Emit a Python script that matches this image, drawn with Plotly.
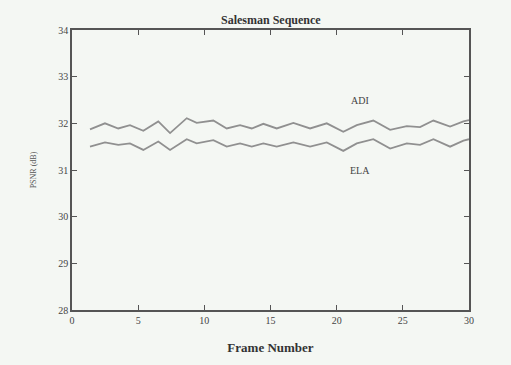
import plotly.graph_objects as go

frames = [1.36, 2.49, 3.5, 4.38, 5.39, 6.52, 7.41, 8.67, 9.42, 10.68, 11.69, 12.7, 13.58,
          14.46, 15.47, 16.73, 17.99, 19.25, 20.5, 21.52, 22.77, 24.04, 25.3, 26.3, 27.31,
          28.57, 29.58, 30.0]
adi = [31.87, 32.0, 31.89, 31.96, 31.84, 32.04, 31.79, 32.11, 32.01, 32.06, 31.89, 31.96,
       31.89, 31.99, 31.89, 32.01, 31.89, 32.0, 31.82, 31.96, 32.06, 31.86, 31.94, 31.92,
       32.06, 31.93, 32.04, 32.07]
ela = [31.50, 31.59, 31.54, 31.57, 31.43, 31.61, 31.43, 31.66, 31.57, 31.64, 31.50, 31.57,
       31.50, 31.57, 31.50, 31.59, 31.50, 31.59, 31.41, 31.57, 31.66, 31.46, 31.57, 31.54,
       31.66, 31.50, 31.63, 31.66]
x_ticks = [0, 5, 10, 15, 20, 25, 30]
y_ticks = [28, 29, 30, 31, 32, 33, 34]

bg = "#f4f7f3"
line_col = "#909090"
axis_col = "#555555"
font_fam = "Liberation Serif, Times New Roman, serif"

fig = go.Figure()
fig.add_trace(go.Scatter(x=frames, y=adi, mode="lines", line=dict(color=line_col, width=1.8),
                         name="ADI", showlegend=False))
fig.add_trace(go.Scatter(x=frames, y=ela, mode="lines", line=dict(color=line_col, width=1.8),
                         name="ELA", showlegend=False))

fig.add_annotation(x=21.8, y=32.48, text="ADI", showarrow=False,
                   font=dict(family=font_fam, size=10, color="#444444"))
fig.add_annotation(x=21.8, y=30.98, text="ELA", showarrow=False,
                   font=dict(family=font_fam, size=10, color="#444444"))

fig.update_layout(
    width=511, height=365,
    margin=dict(l=72, r=42, t=30, b=55),
    paper_bgcolor=bg, plot_bgcolor=bg,
    title=dict(text="<b>Salesman Sequence</b>", x=0.53, xanchor="center", y=0.945, yanchor="middle",
               font=dict(family=font_fam, size=12, color="#333333")),
    font=dict(family=font_fam, size=10, color="#444444"),
    xaxis=dict(range=[0, 30], tickvals=x_ticks, ticktext=[str(v) for v in x_ticks],
               showgrid=False, zeroline=False, showline=True, linecolor=axis_col, linewidth=1.5,
               mirror="ticks", ticks="inside", ticklen=5, tickcolor=axis_col,
               title=dict(text="<b>Frame Number</b>", standoff=18,
                          font=dict(family=font_fam, size=13, color="#333333"))),
    yaxis=dict(range=[28, 34], tickvals=y_ticks, ticktext=[str(v) for v in y_ticks],
               showgrid=False, zeroline=False, showline=True, linecolor=axis_col, linewidth=1.5,
               mirror="ticks", ticks="inside", ticklen=5, tickcolor=axis_col,
               title=dict(text="PSNR (dB)", standoff=20,
                          font=dict(family=font_fam, size=8, color="#555555"))),
)

fig.write_html("out.html")
